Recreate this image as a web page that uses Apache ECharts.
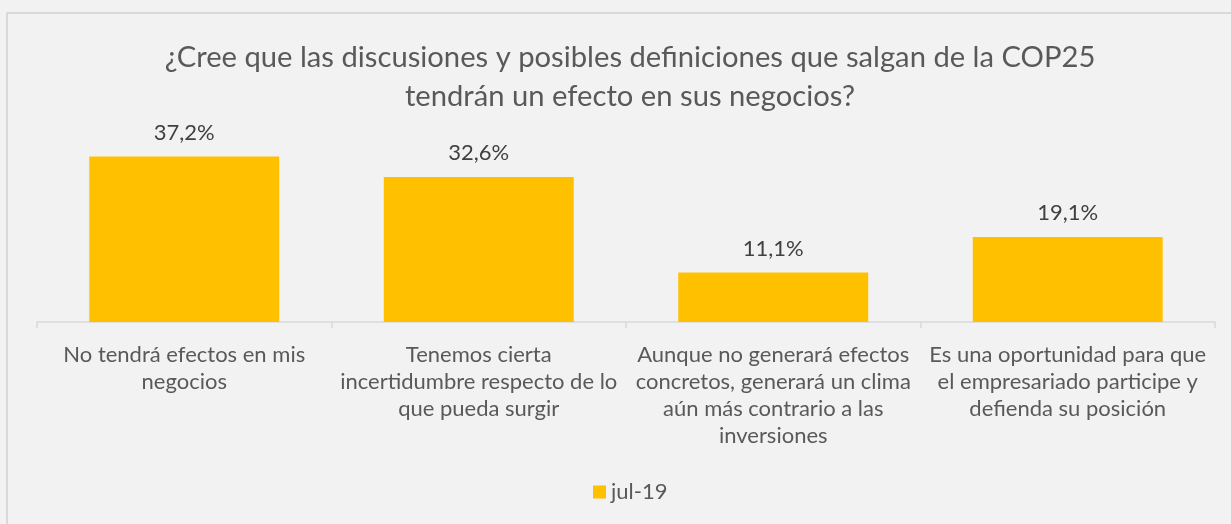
<!DOCTYPE html>
<html>
<head>
<meta charset="utf-8">
<script src="https://cdn.jsdelivr.net/npm/echarts@6/dist/echarts.min.js"></script>
<style>
html,body{margin:0;padding:0;background:#F2F2F2;}
#c{width:1231px;height:524px;}
</style>
</head>
<body>
<div id="c"></div>
<script>
const titleText = '¿Cree que las discusiones y posibles definiciones que salgan de la COP25\ntendrán un efecto en sus negocios?';
const categories = [
  'No tendrá efectos en mis\nnegocios',
  'Tenemos cierta\nincertidumbre respecto de lo\nque pueda surgir',
  'Aunque no generará efectos\nconcretos, generará un clima\naún más contrario a las\ninversiones',
  'Es una oportunidad para que\nel empresariado participe y\ndefienda su posición'
];
const seriesName = 'jul-19';
const values = [37.2, 32.6, 11.1, 19.1];

const FONT = 'Lato';
const chart = echarts.init(document.getElementById('c'), null, {renderer: 'canvas'});
chart.setOption({
  backgroundColor: '#F2F2F2',
  animation: false,
  graphic: [{
    type: 'rect', silent: true, z: -1,
    shape: {x: 7, y: 13, width: 1300, height: 600},
    style: {fill: 'none', stroke: '#D9D9D9', lineWidth: 2}
  }],
  title: {
    text: titleText,
    left: 625,
    textAlign: 'center',
    top: 33,
    textStyle: {fontFamily: FONT, fontSize: 29.2, fontWeight: 'normal', color: '#595959', lineHeight: 39}
  },
  legend: {
    data: [seriesName],
    bottom: 16,
    left: 588,
    icon: 'rect',
    itemWidth: 13, itemHeight: 13, itemGap: 6,
    textStyle: {fontFamily: FONT, fontSize: 22, color: '#595959'}
  },
  grid: {left: 37, right: 16, top: 144, height: 178, containLabel: false},
  xAxis: {
    type: 'category',
    data: categories,
    axisLine: {lineStyle: {color: '#D9D9D9', width: 1.5}},
    axisTick: {show: true, length: 6, lineStyle: {color: '#D9D9D9', width: 1.5}},
    axisLabel: {interval: 0, margin: 19, fontFamily: FONT, fontSize: 22, color: '#595959', lineHeight: 27}
  },
  yAxis: {
    type: 'value', min: 0, max: 40,
    show: false,
    splitLine: {show: false}
  },
  series: [{
    name: seriesName,
    type: 'bar',
    data: values,
    barWidth: '64.5%',
    itemStyle: {color: '#FFC000'},
    label: {
      show: true, position: 'top', distance: 13,
      fontFamily: FONT, fontSize: 22, color: '#404040',
      formatter: p => p.value.toFixed(1).replace('.', ',') + '%'
    }
  }]
});
</script>
</body>
</html>
